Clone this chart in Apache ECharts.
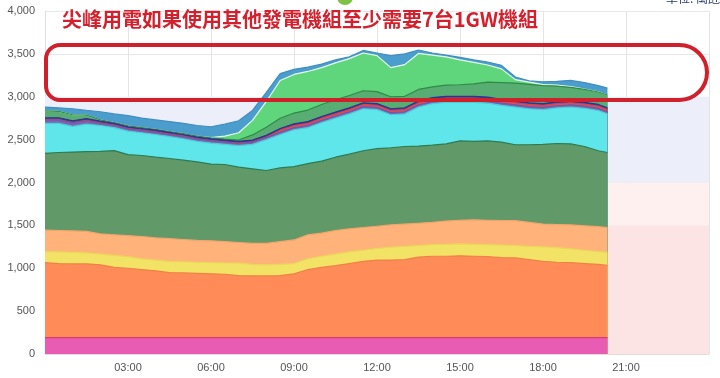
<!DOCTYPE html>
<html>
<head>
<meta charset="utf-8">
<script src="https://cdn.jsdelivr.net/npm/echarts@6/dist/echarts.min.js"></script>
<style>
  html, body { margin: 0; padding: 0; background: #fff; }
  #chart { width: 720px; height: 378px; }
</style>
</head>
<body>
<div id="chart"></div>
<script>
// hours of the day (every 30 min, last point 20:20)
const hours = [0, 0.5, 1, 1.5, 2, 2.5, 3, 3.5, 4, 4.5, 5, 5.5, 6, 6.5, 7, 7.5, 8, 8.5, 9, 9.5, 10,
  10.5, 11, 11.5, 12, 12.5, 13, 13.5, 14, 14.5, 15, 15.5, 16, 16.5, 17, 17.5, 18, 18.5, 19, 19.5, 20, 20.33]

// top edge of each stacked layer (萬瓩)
const topNuclear = [192, 192, 192, 192, 192, 192, 192, 192, 192, 192, 192, 192, 192, 192, 192, 192, 192, 192, 192, 192, 192,
  192, 192, 192, 192, 192, 192, 192, 192, 192, 192, 192, 192, 192, 192, 192, 192, 192, 192, 192, 192, 192]
const topCoal = [1065, 1055, 1050, 1052, 1040, 1010, 1000, 985, 970, 950, 945, 940, 935, 930, 915, 910, 910, 915, 935, 985, 1010,
  1030, 1055, 1080, 1095, 1095, 1100, 1130, 1140, 1140, 1145, 1140, 1135, 1125, 1120, 1100, 1080, 1070, 1065, 1055, 1045, 1035]
const topCogen = [1195, 1190, 1185, 1180, 1165, 1150, 1135, 1110, 1095, 1080, 1075, 1070, 1065, 1062, 1060, 1045, 1040, 1045, 1055, 1110, 1140,
  1165, 1190, 1210, 1230, 1245, 1255, 1265, 1275, 1280, 1285, 1280, 1275, 1270, 1265, 1255, 1250, 1240, 1225, 1210, 1195, 1185]
const topIppCoal = [1445, 1440, 1435, 1430, 1400, 1390, 1380, 1370, 1355, 1345, 1335, 1325, 1320, 1310, 1300, 1290, 1290, 1310, 1330, 1390, 1410,
  1440, 1460, 1475, 1490, 1505, 1515, 1525, 1535, 1550, 1560, 1565, 1560, 1555, 1555, 1535, 1515, 1510, 1505, 1495, 1485, 1475]
const topLng = [2340, 2350, 2355, 2360, 2362, 2372, 2325, 2315, 2295, 2280, 2260, 2240, 2215, 2210, 2180, 2160, 2140, 2170, 2185, 2220, 2250,
  2295, 2330, 2370, 2395, 2405, 2420, 2425, 2435, 2450, 2485, 2480, 2485, 2470, 2440, 2440, 2445, 2455, 2450, 2420, 2370, 2350]
const topIppLng = [2690, 2690, 2655, 2680, 2665, 2640, 2600, 2580, 2560, 2535, 2510, 2480, 2460, 2445, 2430, 2445, 2500, 2560, 2615, 2640, 2700,
  2750, 2800, 2860, 2850, 2790, 2800, 2880, 2920, 2935, 2935, 2935, 2925, 2900, 2880, 2860, 2850, 2870, 2880, 2865, 2840, 2800]
const topOil = [2730, 2730, 2695, 2720, 2690, 2665, 2625, 2605, 2585, 2560, 2535, 2505, 2485, 2470, 2455, 2470, 2525, 2585, 2640, 2665, 2725,
  2775, 2825, 2885, 2875, 2815, 2825, 2905, 2945, 2960, 2960, 2960, 2950, 2925, 2905, 2885, 2875, 2895, 2905, 2890, 2865, 2825]
const topDiesel = [2735, 2735, 2700, 2725, 2695, 2670, 2630, 2610, 2590, 2565, 2540, 2510, 2490, 2475, 2460, 2475, 2530, 2610, 2665, 2690, 2750,
  2800, 2850, 2910, 2900, 2840, 2850, 2930, 2970, 2985, 2985, 2985, 2975, 2950, 2930, 2910, 2900, 2920, 2930, 2915, 2890, 2850]
const topHydro = [2755, 2755, 2720, 2745, 2715, 2690, 2650, 2630, 2610, 2585, 2560, 2530, 2510, 2495, 2480, 2495, 2550, 2630, 2685, 2710, 2770,
  2820, 2870, 2930, 2920, 2860, 2870, 2950, 2990, 3005, 3005, 3005, 2995, 2970, 2950, 2930, 2920, 2940, 2950, 2935, 2910, 2870]
const topWind = [2835, 2830, 2790, 2785, 2730, 2700, 2660, 2640, 2620, 2595, 2570, 2540, 2520, 2505, 2495, 2555, 2645, 2750, 2810, 2845, 2910,
  2965, 3015, 3070, 3060, 3000, 3005, 3085, 3115, 3135, 3140, 3150, 3170, 3165, 3160, 3145, 3130, 3125, 3110, 3085, 3055, 3020]
const topSolar = [2835, 2830, 2790, 2785, 2730, 2700, 2660, 2640, 2620, 2595, 2570, 2540, 2525, 2540, 2580, 2725, 2945, 3190, 3260, 3295, 3340,
  3395, 3445, 3510, 3480, 3340, 3375, 3505, 3485, 3465, 3430, 3400, 3370, 3325, 3200, 3170, 3142, 3135, 3118, 3090, 3058, 3020]
const topTotal = [2880, 2870, 2860, 2840, 2825, 2800, 2780, 2750, 2730, 2710, 2690, 2665, 2650, 2680, 2720, 2840, 3050, 3270, 3320, 3345, 3380,
  3430, 3465, 3540, 3510, 3480, 3500, 3545, 3510, 3485, 3460, 3430, 3405, 3365, 3230, 3185, 3175, 3180, 3190, 3165, 3130, 3100]

// background bands behind the plot
const bandEdges = [0, 1500, 2000, 3000]
const bandColors = ['#fde4e4', '#fff0f0', '#eceefa']

// drawn from the top layer down, so each lower area covers the one above
const layers = [
  { name: '抽蓄水力', data: topTotal, fill: '#4b9dcd', line: '#3f8fc2' },
  { name: '太陽能', data: topSolar, fill: '#60d67c', line: '#e8fbe8' },
  { name: '風力', data: topWind, fill: '#58ad72', line: '#2f8a45' },
  { name: '水力', data: topHydro, fill: '#2f3f9a', line: '#283590' },
  { name: '輕油', data: topDiesel, fill: '#e0505c', line: '#d84050' },
  { name: '重油', data: topOil, fill: '#7c64b2', line: '#6f58a8' },
  { name: '民營燃氣', data: topIppLng, fill: '#5ee6eb', line: '#48d0d6' },
  { name: '燃氣', data: topLng, fill: '#619a68', line: '#2f7a50' },
  { name: '民營燃煤', data: topIppCoal, fill: '#ffb27a', line: '#f4a46c' },
  { name: '汽電共生', data: topCogen, fill: '#f2e266', line: '#ead85a' },
  { name: '燃煤', data: topCoal, fill: '#ff8c58', line: '#f08048' },
  { name: '核能', data: topNuclear, fill: '#e85cb4', line: '#dd3c6a' }
]

const chart = echarts.init(document.getElementById('chart'))

const series = [{
  type: 'line',
  data: [],
  silent: true,
  z: 0,
  markArea: {
    silent: true,
    data: bandColors.map((c, i) => [
      { xAxis: 0, yAxis: bandEdges[i], itemStyle: { color: c } },
      { xAxis: 24, yAxis: bandEdges[i + 1] }
    ])
  }
}]
layers.forEach((l) => {
  series.push({
    name: l.name,
    type: 'line',
    z: 2,
    symbol: 'none',
    data: hours.map((h, i) => [h, l.data[i]]),
    lineStyle: { width: 1.2, color: l.line },
    areaStyle: { color: l.fill, opacity: 1 }
  })
})

const option = {
  animation: false,
  grid: { left: 45, right: 11, top: 11, bottom: 24 },
  title: {
    text: '尖峰用電如果使用其他發電機組至少需要7台1GW機組',
    left: 57,
    top: 4,
    textStyle: { color: '#d41f2c', fontSize: 20, fontWeight: 'bold', fontFamily: 'Noto Sans CJK TC' }
  },
  xAxis: {
    type: 'value',
    min: 0,
    max: 24,
    interval: 3,
    axisLine: { lineStyle: { color: '#dddddd' } },
    axisTick: { show: false },
    axisLabel: {
      color: '#555',
      fontSize: 11,
      formatter: (v) => (v === 0 || v === 24) ? '' : (v < 10 ? '0' + v : v) + ':00'
    },
    splitLine: { show: true, lineStyle: { color: '#e4e4e4' } }
  },
  yAxis: {
    type: 'value',
    min: 0,
    max: 4000,
    interval: 500,
    axisLine: { show: true, lineStyle: { color: '#f2d6e0' } },
    axisTick: { show: false },
    axisLabel: { color: '#555', fontSize: 11, margin: 10 },
    splitLine: { lineStyle: { color: '#e8e8e8' } }
  },
  graphic: [
    {
      type: 'rect',
      z: 100,
      shape: { x: 46, y: 45, width: 661, height: 55, r: [14, 30, 30, 14] },
      style: { fill: 'none', stroke: '#d0202c', lineWidth: 4 }
    },
    {
      type: 'text',
      z: 100,
      left: 666,
      top: -8,
      style: { text: '單位: 萬瓩', fill: '#2a3a6a', fontSize: 12, fontFamily: 'Noto Sans CJK TC' }
    },
    {
      type: 'circle',
      z: 100,
      shape: { cx: 345, cy: -3, r: 8 },
      style: { fill: '#7cc243' }
    }
  ],
  series: series
}
chart.setOption(option)
</script>
</body>
</html>
